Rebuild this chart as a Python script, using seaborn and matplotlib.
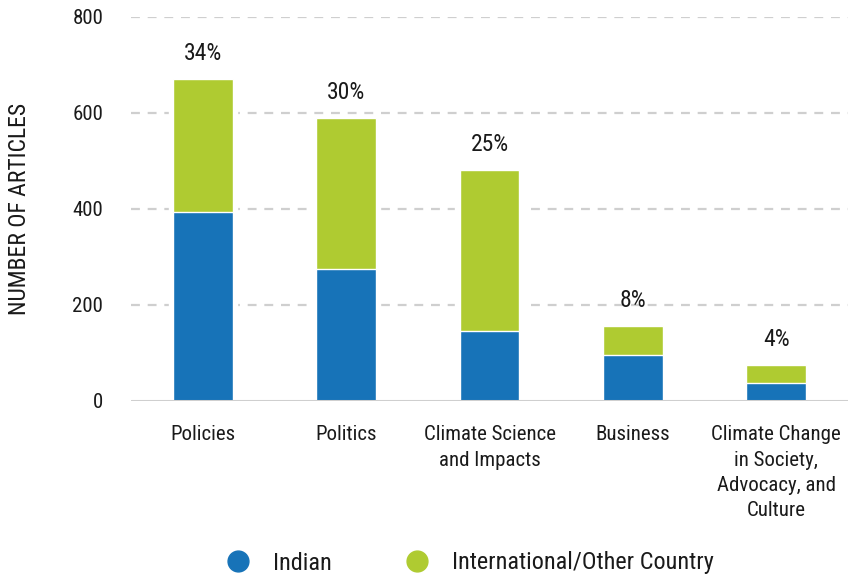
import numpy as np
import pandas as pd
import matplotlib
matplotlib.use("Agg")
import matplotlib.pyplot as plt
from matplotlib.lines import Line2D
import seaborn as sns

# Article counts by topic and source
categories = [
    "Policies",
    "Politics",
    "Climate Science\nand Impacts",
    "Business",
    "Climate Change\nin Society,\nAdvocacy, and\nCulture",
]
indian = [393, 275, 146, 95, 37]
international = [278, 315, 335, 61, 37]
share_labels = ["34%", "30%", "25%", "8%", "4%"]
y_ticks = [0, 200, 400, 600, 800]

BLUE = "#1773b8"
GREEN = "#afcb31"
GRID = "#cfcfcf"
TEXT = "#1a1a1a"

sns.set_theme(style="white")
plt.rcParams["font.family"] = ["Liberation Sans Narrow", "Roboto Condensed", "Roboto", "DejaVu Sans"]
plt.rcParams["text.color"] = TEXT

df = pd.DataFrame({
    "category": categories,
    "Indian": indian,
    "International": international,
})
df["total"] = df["Indian"] + df["International"]

fig = plt.figure(figsize=(8.48, 5.80), dpi=100)
ax = fig.add_axes([131 / 848, 1 - 401 / 580, 717 / 848, 384 / 580])

# dashed horizontal gridlines behind everything
for t in y_ticks[1:]:
    ax.axhline(t, color=GRID, lw=1.6, ls=(0, (4, 3.5)), zorder=0)

# white backing so gridlines stop short of each bar
sns.barplot(data=df, x="category", y="total", color="white", width=0.475,
            saturation=1, ax=ax, zorder=1)
# stacked bars: full total in green, Indian share in blue on top
sns.barplot(data=df, x="category", y="total", color=GREEN, width=0.418,
            saturation=1, ax=ax, zorder=2)
sns.barplot(data=df, x="category", y="Indian", color=BLUE, width=0.418,
            saturation=1, ax=ax, zorder=3)

# baseline
ax.axhline(0, color=GRID, lw=2.2, zorder=4)

for i, (tot, lab) in enumerate(zip(df["total"], share_labels)):
    ax.annotate(lab, xy=(i, tot), xytext=(0, 18.5), textcoords="offset points",
                ha="center", va="center", fontsize=17, color=TEXT)

ax.set_xlim(-0.5, 4.5)
ax.set_ylim(0, 800)
ax.set_yticks(y_ticks)
ax.set_yticklabels([str(t) for t in y_ticks], fontsize=15, color=TEXT)
ax.tick_params(axis="y", length=0, pad=20)
ax.tick_params(axis="x", length=0, pad=17.5, labelsize=15, labelcolor=TEXT)
for lbl in ax.get_xticklabels():
    lbl.set_linespacing(1.42)
    lbl.set_ha("center")
ax.set_xlabel("")
ax.set_ylabel("NUMBER OF ARTICLES", fontsize=17, color=TEXT)
ax.yaxis.set_label_coords((31 - 131) / 717, 0.5)
for s in ax.spines.values():
    s.set_visible(False)
ax.grid(False)

handles = [
    Line2D([], [], marker="o", ls="", markersize=15, color=BLUE, label="Indian"),
    Line2D([], [], marker="o", ls="", markersize=15, color=GREEN,
           label="International/Other Country"),
]
fig.legend(handles=handles, loc="center", bbox_to_anchor=(470 / 848, 17 / 580),
           ncol=2, frameon=False, fontsize=17.5, handlelength=1.0,
           handletextpad=0.94, columnspacing=3.0)

fig.savefig("out.png", dpi=100)
